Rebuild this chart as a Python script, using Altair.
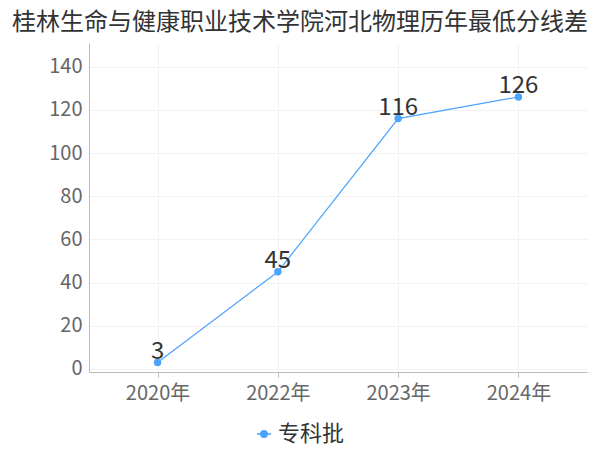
import altair as alt
import pandas as pd

years = ["2020年", "2022年", "2023年", "2024年"]
values = [3, 45, 116, 126]
series = ["专科批", "专科批", "专科批", "专科批"]

df = pd.DataFrame({"year": years, "value": values, "series": series})

FONT = "Noto Sans CJK SC"
COLOR = "#4aa3ff"

x = alt.X("year:N", sort=years, title=None,
          scale=alt.Scale(type="point", padding=0.57),
          axis=alt.Axis(labelAngle=0, labelFontSize=20, labelColor="#666666",
                        labelFont=FONT, labelPadding=6, tickSize=5, tickColor="#bbbbbb",
                        domainColor="#bbbbbb", grid=True, gridColor="#f2f2f2"))
y = alt.Y("value:Q", title=None,
          scale=alt.Scale(domain=[-1.4, 151], nice=False, zero=False),
          axis=alt.Axis(values=[0, 20, 40, 60, 80, 100, 120, 140], labelFontSize=20,
                        labelColor="#666666", labelFont=FONT, ticks=False, labelPadding=7,
                        domainColor="#bbbbbb", grid=True, gridColor="#f2f2f2"))

color = alt.Color("series:N", scale=alt.Scale(range=[COLOR]), title=None,
                  legend=alt.Legend(orient="none", legendX=164, legendY=380,
                                    labelFontSize=22, labelFont=FONT, labelColor="#333333",
                                    labelOffset=3,
                                    symbolType="M-1,0L1,0M-0.45,0A0.45,0.45 0 1,0 0.45,0A0.45,0.45 0 1,0 -0.45,0Z",
                                    symbolSize=200, symbolStrokeWidth=1.5,
                                    symbolFillColor=COLOR, symbolStrokeColor=COLOR))

base = alt.Chart(df).encode(x=x, y=y)

line = base.mark_line(strokeWidth=1.2).encode(color=color)
points = base.mark_point(filled=True, size=55, opacity=1).encode(
    color=alt.Color("series:N", scale=alt.Scale(range=[COLOR]), legend=None))
labels = base.mark_text(dy=-4, baseline="alphabetic", fontSize=24, font=FONT,
                        color="#333333").encode(text="value:Q")

chart = (line + points + labels).properties(
    width=498, height=329,
    autosize=alt.AutoSizeParams(type="none"),
    padding={"left": 81, "top": 35, "right": 5, "bottom": 74},
    title=alt.TitleParams("桂林生命与健康职业技术学院河北物理历年最低分线差",
                          fontSize=24, font=FONT, color="#333333", fontWeight="normal",
                          anchor="middle", dx=-38, offset=8),
).configure_view(stroke=None)

chart.save("out.html", embed_options={"renderer": "svg", "actions": False})
